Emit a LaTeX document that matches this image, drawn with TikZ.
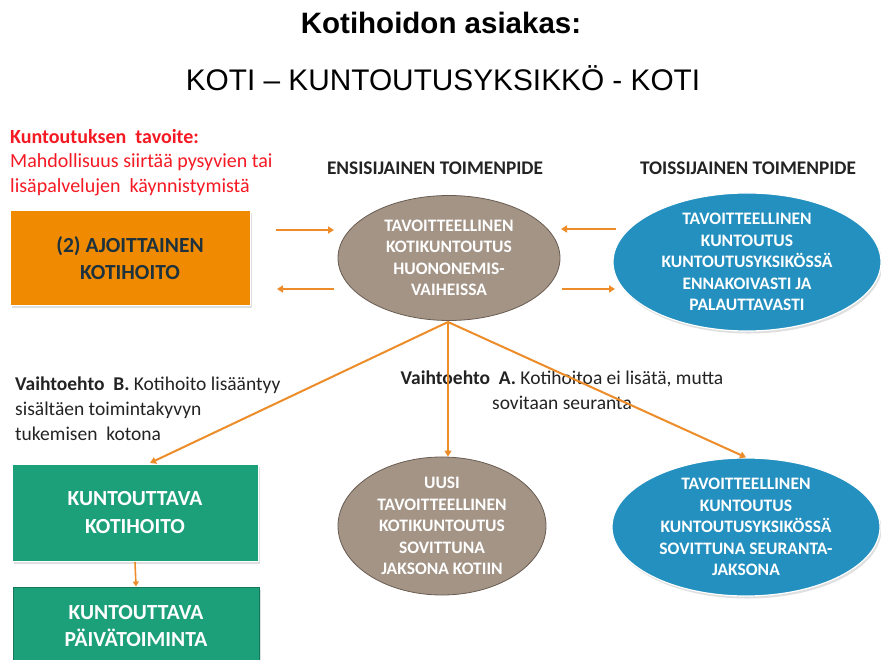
\documentclass[tikz,border=0pt]{standalone}
\usepackage{fontspec}
\setmainfont{Carlito}
\newfontfamily\arialf{Liberation Sans}
\usetikzlibrary{arrows.meta,shadows,shapes.geometric}
\definecolor{orfill}{RGB}{240,138,0}
\definecolor{arrc}{RGB}{237,140,40}
\definecolor{taupe}{RGB}{163,148,134}
\definecolor{taupeb}{RGB}{105,92,82}
\definecolor{bluef}{RGB}{35,144,192}
\definecolor{greenf}{RGB}{28,160,122}
\definecolor{greenb}{RGB}{20,120,90}
\definecolor{darkt}{RGB}{30,50,62}
\definecolor{txt}{RGB}{35,35,35}
\definecolor{redt}{RGB}{245,25,35}
\begin{document}
\begin{tikzpicture}[x=1pt,y=-1pt,
  shadowed/.style={drop shadow={opacity=0.25,shadow xshift=1.5pt,shadow yshift=-2.5pt}},
  boxtext/.style={font=\bfseries\fontsize{21.5}{26.5}\selectfont,align=center},
  ellbrown/.style={ellipse,fill=taupe,draw=taupeb,line width=0.8pt,inner sep=0pt,
     text=white,font=\bfseries\fontsize{17.5}{21.5}\selectfont,align=center},
  ellblue/.style={ellipse,fill=bluef,draw=white,line width=1.2pt,inner sep=0pt,shadowed,
     text=white,font=\bfseries\fontsize{17.5}{21.5}\selectfont,align=center},
  greenbox/.style={rectangle,fill=greenf,draw=white,line width=1pt,shadowed,text=white,boxtext,
     minimum width=246pt,minimum height=97pt},
  arr/.style={draw=arrc,line width=2pt,-{Triangle[length=6pt,width=7pt]}},
  plain/.style={font=\fontsize{19.5}{25}\selectfont,text=txt,align=left,inner sep=0pt},
  head/.style={font=\bfseries\fontsize{19.3}{22}\selectfont,text=txt,inner sep=0pt}
]
\useasboundingbox (0,0) rectangle (881,660);
% titles
\node[font=\arialf\bfseries\fontsize{29.5}{34}\selectfont] (title) at (441,23) {Kotihoidon asiakas:};
\node[font=\arialf\fontsize{29.8}{34}\selectfont] (subtitle) at (443,78) {KOTI – KUNTOUTUSYKSIKKÖ - KOTI};
% red goal text
\node[anchor=north west,inner sep=0pt,text=redt,align=left,font=\fontsize{20}{24.5}\selectfont] (goal) at (10,129)
  {\textbf{Kuntoutuksen\ \ tavoite:}\\Mahdollisuus siirtää pysyvien tai\\lisäpalvelujen\ \ käynnistymistä};
% column heads
\node[head] (h1) at (435,168) {ENSISIJAINEN TOIMENPIDE};
\node[head] (h2) at (748,168) {TOISSIJAINEN TOIMENPIDE};
% orange box
\node[rectangle,fill=orfill,draw=white,line width=1pt,shadowed,text=darkt,boxtext,
  minimum width=240pt,minimum height=95pt] (orange) at (130,258) {(2) AJOITTAINEN\\KOTIHOITO};
% ellipses
\node[ellbrown,minimum width=222pt,minimum height=125pt] (e1) at (449,258)
  {TAVOITTEELLINEN\\KOTIKUNTOUTUS\\HUONONEMIS-\\VAIHEISSA};
\node[ellblue,minimum width=268pt,minimum height=130pt] (b1) at (747,262)
  {TAVOITTEELLINEN\\KUNTOUTUS\\KUNTOUTUSYKSIKÖSSÄ\\ENNAKOIVASTI JA\\PALAUTTAVASTI};
\node[ellbrown,minimum width=208pt,minimum height=128pt] (e2) at (442,526)
  {UUSI\\TAVOITTEELLINEN\\KOTIKUNTOUTUS\\SOVITTUNA\\JAKSONA KOTIIN};
\node[ellblue,minimum width=268pt,minimum height=124pt] (b2) at (746,527)
  {TAVOITTEELLINEN\\KUNTOUTUS\\KUNTOUTUSYKSIKÖSSÄ\\SOVITTUNA SEURANTA-\\JAKSONA};
% green boxes
\node[greenbox,font=\bfseries\fontsize{21.5}{28}\selectfont] (g1) at (135,513) {KUNTOUTTAVA\\KOTIHOITO};
\node[greenbox,draw=greenb,minimum height=78pt] (g2) at (136,626) {KUNTOUTTAVA\\PÄIVÄTOIMINTA};
% option texts
\node[plain,anchor=north west] (vb) at (15,377)
  {\textbf{Vaihtoehto\ \ B.} Kotihoito lisääntyy\\sisältäen toimintakyvyn\\tukemisen\ \ kotona};
\node[plain,align=center] (va) at (562,390)
  {\textbf{Vaihtoehto\ \ A.} Kotihoitoa ei lisätä, mutta\\sovitaan seuranta};
% short horizontal arrows
\coordinate (a1s) at (276,230); \coordinate (a1e) at (334,230);
\coordinate (a2s) at (334,289); \coordinate (a2e) at (277,289);
\coordinate (a3s) at (616,229); \coordinate (a3e) at (561,229);
\coordinate (a4s) at (562,289); \coordinate (a4e) at (615,289);
\draw[arr] (a1s) -- (a1e);
\draw[arr] (a2s) -- (a2e);
\draw[arr] (a3s) -- (a3e);
\draw[arr] (a4s) -- (a4e);
% branching arrows
\coordinate (hub) at (448,322);
\coordinate (g1t) at (150,463);
\draw[arr] (hub) -- (g1t);
\draw[arr] (hub) -- (e2.north -| hub);
\draw[arr] (hub) -- (b2.north);
\draw[arr,line width=1.6pt,-{Triangle[length=5pt,width=6pt]}] (g1.south) -- (g2.north);
\end{tikzpicture}
\end{document}
